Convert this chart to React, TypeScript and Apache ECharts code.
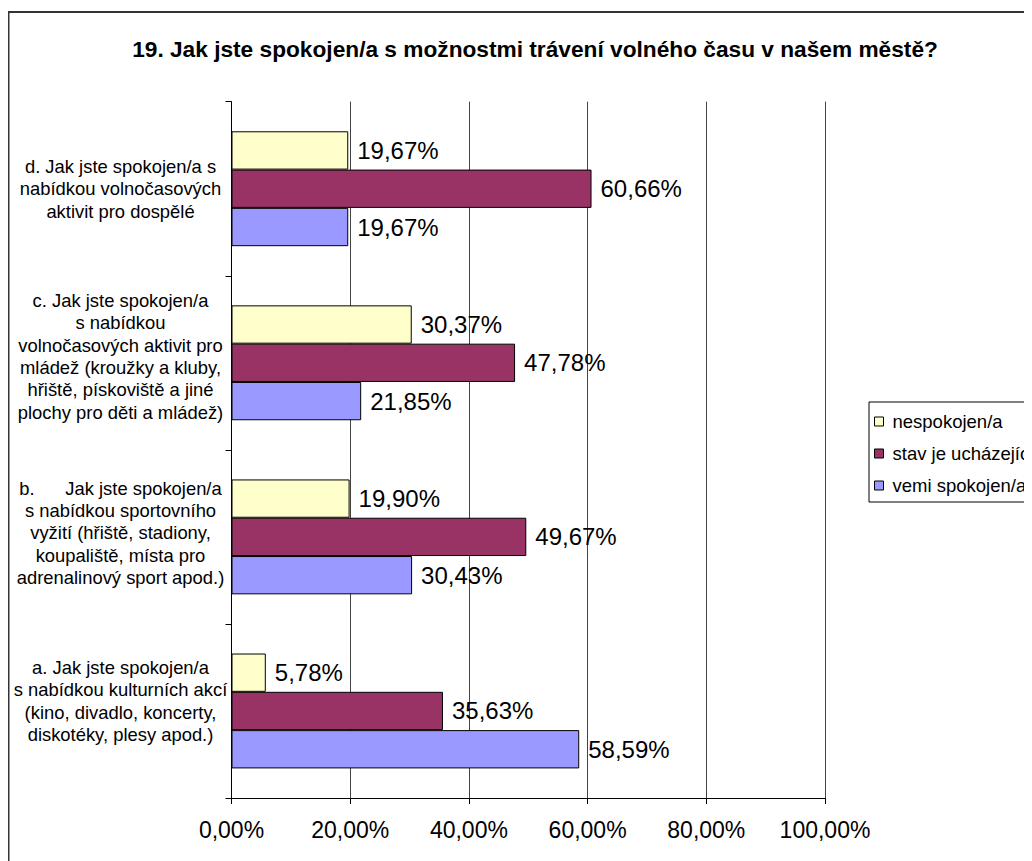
import React, { useEffect, useRef } from "react";
import * as echarts from "echarts";

const titleText = "19. Jak jste spokojen/a s možnostmi trávení volného času v našem městě?";

const categories = [
  "a. Jak jste spokojen/a\ns nabídkou kulturních akcí\n(kino, divadlo, koncerty,\ndiskotéky, plesy apod.)",
  "b.      Jak jste spokojen/a\ns nabídkou sportovního\nvyžití (hřiště, stadiony,\nkoupaliště, místa pro\nadrenalinový sport apod.)",
  "c. Jak jste spokojen/a\ns nabídkou\nvolnočasových aktivit pro\nmládež (kroužky a kluby,\nhřiště, pískoviště a jiné\nplochy pro děti a mládež)",
  "d. Jak jste spokojen/a s\nnabídkou volnočasových\naktivit pro dospělé",
];

const seriesNames = ["nespokojen/a", "stav je ucházející", "vemi spokojen/a"];
const nespokojen = [5.78, 19.9, 30.37, 19.67];
const uchazejici = [35.63, 49.67, 47.78, 60.66];
const velmiSpokojen = [58.59, 30.43, 21.85, 19.67];
const seriesColors = ["#FFFFCC", "#993366", "#9999FF"];

const labelShift = [20, 8, 13, 0];

const fmt = (v: number) => v.toFixed(2).replace(".", ",") + "%";

export default function App() {
  const ref = useRef<HTMLDivElement>(null);
  useEffect(() => {
    if (!ref.current) return;
    const chart = echarts.init(ref.current, null, { renderer: "svg" });
    const font = "'Liberation Sans', Arial, sans-serif";
    const values = [nespokojen, uchazejici, velmiSpokojen];
    const rich: any = { t: { fontSize: 18.4, lineHeight: 22.4, color: "#000", fontFamily: font, align: "center" } };
    labelShift.forEach((s, i) => {
      rich["p" + i] = { fontSize: 1, lineHeight: s, height: s };
    });
    chart.setOption({
      animation: false,
      textStyle: { fontFamily: font },
      graphic: [
        {
          type: "rect",
          shape: { x: 0.5, y: 4, width: 1200, height: 1000 },
          style: { fill: "none", stroke: "#333", lineWidth: 2 },
          silent: true,
        },
        {
          type: "text",
          x: 527,
          y: 41,
          style: {
            text: titleText,
            fontFamily: font,
            fontSize: 22.7,
            fontWeight: "bold",
            fill: "#000",
            textAlign: "center",
            textVerticalAlign: "middle",
          },
        },
      ],
      legend: {
        orient: "vertical",
        left: 861,
        top: 394,
        padding: [10, 30, 7, 5],
        itemGap: 13,
        itemWidth: 9,
        itemHeight: 9,
        borderColor: "#000",
        borderWidth: 1,
        data: seriesNames,
        icon: "rect",
        itemStyle: { borderColor: "#000", borderWidth: 1 },
        textStyle: { fontSize: 18.5, color: "#000", fontFamily: font, padding: [0, 0, 0, 4] },
      },
      grid: { left: 223.5, right: 207, top: 93.7, bottom: 63, containLabel: false, outerBoundsMode: "none" },
      xAxis: {
        type: "value",
        min: 0,
        max: 100,
        interval: 20,
        axisLine: { show: true, lineStyle: { color: "#000", width: 1 } },
        axisTick: { show: true, length: 6, lineStyle: { color: "#000" } },
        axisLabel: {
          fontSize: 23,
          color: "#000",
          margin: 20,
          fontFamily: font,
          formatter: (v: number) => fmt(v),
        },
        splitLine: { show: true, lineStyle: { color: "#444", width: 1 } },
      },
      yAxis: {
        type: "category",
        data: categories,
        axisLine: { show: true, lineStyle: { color: "#000", width: 1 } },
        axisTick: { show: true, length: 6, lineStyle: { color: "#000" } },
        axisLabel: {
          fontSize: 18.4,
          lineHeight: 22.4,
          color: "#000",
          align: "center",
          margin: 111,
          fontFamily: font,
          formatter: (v: string, i: number) => {
            const body = v.split("\n").map((l) => `{t|${l}}`).join("\n");
            return labelShift[i] > 0 ? body + `\n{p${i}| }` : body;
          },
          rich,
        },
        splitLine: { show: false },
      },
      series: seriesNames.map((name, i) => ({
        name,
        type: "bar",
        data: values[i],
        barGap: "0%",
        barCategoryGap: "34%",
        itemStyle: { color: seriesColors[i], borderColor: "#000", borderWidth: 1 },
        label: {
          show: true,
          position: "right",
          distance: 9,
          fontSize: 24,
          color: "#000",
          fontFamily: font,
          formatter: (p: any) => fmt(p.value),
        },
      })),
    });
    return () => chart.dispose();
  }, []);
  return <div ref={ref} style={{ width: 1024, height: 853 }} />;
}
